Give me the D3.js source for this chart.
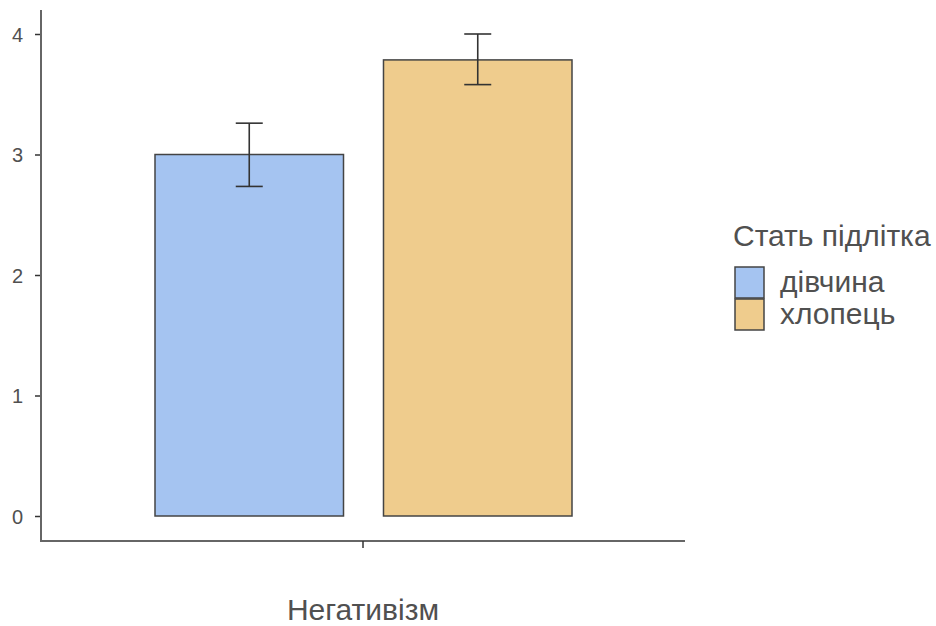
<!DOCTYPE html>
<html><head><meta charset="utf-8">
<script src="https://cdn.jsdelivr.net/npm/d3@7"></script>
<style>body{margin:0;background:#fff}svg{display:block}text{font-family:"Liberation Sans",Arial,sans-serif}</style>
</head><body>
<script>
const categories = ["Негативізм"];
const groups = ["дівчина", "хлопець"];
const means = [3.0, 3.785];
const lower = [2.735, 3.58];
const upper = [3.26, 4.0];
const colors = ["#a5c4f1", "#efcc8d"];
const yTicks = [0, 1, 2, 3, 4];
const legendTitle = "Стать підлітка";

const W = 936, H = 626;
const svg = d3.select("body").append("svg").attr("width", W).attr("height", H);

const y = d3.scaleLinear().domain([0, 4]).range([516, 34]);
const x = d3.scaleBand().domain(categories).range([41, 685]);
const xg = d3.scaleBand().domain(groups).range([155, 572]).paddingInner(0.175);

const axisColor = "#666";
const textColor = "#505050";
// y axis
const ya = svg.append("g").attr("transform", "translate(41,0)")
  .call(d3.axisLeft(y).tickValues(yTicks).tickSize(6).tickPadding(12).tickFormat(d3.format("d")));
ya.select(".domain").remove();
ya.selectAll(".tick line").attr("stroke", "#333").attr("stroke-width", 1.5);
ya.selectAll(".tick text").attr("fill", textColor).style("font-size", "20px").attr("dy", "0.36em");
svg.append("line").attr("x1", 41).attr("x2", 41).attr("y1", 10).attr("y2", 542)
  .attr("stroke", axisColor).attr("stroke-width", 2);

// x axis
svg.append("line").attr("x1", 40).attr("x2", 685).attr("y1", 541).attr("y2", 541)
  .attr("stroke", axisColor).attr("stroke-width", 2);
const xa = svg.append("g").attr("transform", "translate(0,541)")
  .call(d3.axisBottom(x).tickSize(7).tickFormat(""));
xa.select(".domain").remove();
xa.selectAll(".tick line").attr("stroke", "#333").attr("stroke-width", 1.5);

// bars
svg.selectAll("rect.bar").data(groups).enter().append("rect")
  .attr("class", "bar")
  .attr("x", d => xg(d)).attr("width", xg.bandwidth())
  .attr("y", (d, i) => y(means[i])).attr("height", (d, i) => y(0) - y(means[i]))
  .attr("fill", (d, i) => colors[i]).attr("stroke", "#444").attr("stroke-width", 1.5);

// error bars
const cap = 13.5;
groups.forEach((g, i) => {
  const cx = xg(g) + xg.bandwidth() / 2;
  const e = svg.append("g").attr("stroke", "#333").attr("stroke-width", 1.6);
  e.append("line").attr("x1", cx).attr("x2", cx).attr("y1", y(lower[i])).attr("y2", y(upper[i]));
  e.append("line").attr("x1", cx - cap).attr("x2", cx + cap).attr("y1", y(lower[i])).attr("y2", y(lower[i]));
  e.append("line").attr("x1", cx - cap).attr("x2", cx + cap).attr("y1", y(upper[i])).attr("y2", y(upper[i]));
});

// x title
svg.append("text").attr("x", x(categories[0]) + x.bandwidth() / 2).attr("y", 620)
  .attr("text-anchor", "middle").attr("fill", textColor).style("font-size", "30px").text(categories[0]);

// legend
svg.append("text").attr("x", 733).attr("y", 246).attr("fill", textColor).style("font-size", "30px").text(legendTitle);
groups.forEach((g, i) => {
  svg.append("rect").attr("x", 735).attr("y", 267 + i * 32).attr("width", 29).attr("height", 31)
    .attr("fill", colors[i]).attr("stroke", "#444").attr("stroke-width", 1.5);
  svg.append("text").attr("x", 780).attr("y", 292 + i * 32).attr("fill", textColor).style("font-size", "30px").text(g);
});
</script>
</body></html>
